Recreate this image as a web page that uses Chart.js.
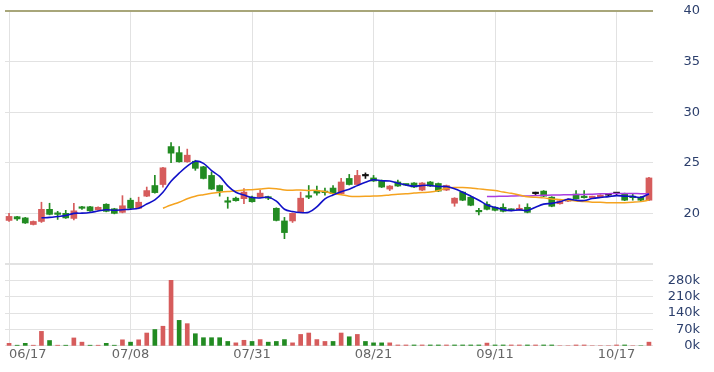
<!DOCTYPE html>
<html><head><meta charset="utf-8">
<script src="https://cdn.jsdelivr.net/npm/chart.js@4"></script>
<style>html,body{margin:0;padding:0;background:#fff}#wrap{width:714px;height:372px;position:relative}</style>
</head><body><div id="wrap"><canvas id="c" width="714" height="372"></canvas></div>
<script>
const dates = ['06/17','06/18','06/19','06/20','06/21','06/24','06/25','06/26','06/27','06/28',
 '07/01','07/02','07/03','07/04','07/05','07/08','07/09','07/10','07/11','07/12',
 '07/15','07/16','07/17','07/18','07/19','07/22','07/23','07/24','07/25','07/26',
 '07/31','08/01','08/02','08/05','08/06','08/07','08/08','08/09','08/12','08/13',
 '08/14','08/15','08/16','08/19','08/20','08/21','08/22','08/23','08/26','08/27',
 '08/28','08/29','08/30','09/02','09/03','09/04','09/05','09/06','09/09','09/10',
 '09/11','09/12','09/16','09/17','09/18','09/19','09/20','09/24','09/25','09/27',
 '09/30','10/08','10/11','10/15','10/16','10/17','10/18','10/21','10/22','10/23'];
const dateTickIndex = [0,15,30,45,60,75];

const open = [19.3,19.67,19.55,18.9,19.2,20.4,20.0,20.0,19.5,20.6,
 20.65,20.35,20.9,20.45,20.1,21.3,20.5,21.7,22.75,22.85,
 26.6,26.0,25.1,25.15,24.6,23.75,22.75,21.2,21.5,21.45,
 21.6,21.6,21.6,20.5,19.25,19.25,20.1,21.75,22.25,22.2,
 22.5,21.95,23.45,22.85,23.7,23.5,23.25,22.4,23.1,22.85,
 23.0,22.3,23.1,22.95,22.3,21.0,22.1,21.6,20.2,20.9,
 20.6,20.6,20.4,20.35,20.6,21.95,22.2,21.6,20.95,21.2,
 21.9,21.65,21.55,21.65,21.8,21.95,21.95,21.65,21.6,21.3];
const high = [20.0,19.7,19.6,19.25,21.1,21.0,20.2,20.3,21.0,20.7,
 20.7,20.65,20.95,20.5,21.75,21.5,21.6,22.6,23.75,24.55,
 27.0,26.6,26.35,25.25,24.65,24.1,22.8,21.6,21.6,22.45,
 21.7,22.3,21.7,20.55,19.6,20.05,22.1,22.75,22.7,22.5,
 22.75,23.45,23.85,24.25,24.0,23.75,23.3,22.75,23.3,22.9,
 23.05,23.05,23.15,23.0,22.8,21.55,22.15,21.65,20.5,21.15,
 20.65,20.95,20.45,20.85,20.95,22.1,22.25,21.65,21.3,21.45,
 22.25,22.25,21.7,21.85,21.9,22.05,22.0,21.95,21.65,23.55];
const low = [19.2,19.3,19.0,18.85,19.1,19.85,19.4,19.5,19.35,20.4,
 20.2,20.3,20.15,19.95,20.05,20.45,20.45,21.65,22.0,22.6,
 25.0,25.05,25.05,24.25,23.4,22.35,21.7,20.5,21.2,20.95,
 21.1,21.55,21.35,19.25,17.5,19.1,20.05,21.45,21.8,21.8,
 21.9,21.9,22.8,22.8,23.45,23.15,22.55,22.25,22.65,22.75,
 22.55,22.25,22.65,22.15,22.25,20.7,21.25,20.75,19.85,20.35,
 20.25,20.15,20.25,20.3,20.05,21.85,21.65,20.65,20.9,21.15,
 21.4,21.5,21.5,21.6,21.7,21.85,21.25,21.3,21.25,21.25];
const close = [19.7,19.45,19.05,19.2,20.4,19.9,19.9,19.55,20.25,20.5,
 20.25,20.6,20.2,20.0,20.75,20.5,21.1,22.25,22.05,24.5,
 25.95,25.1,25.75,24.45,23.45,22.4,22.2,21.1,21.25,22.1,
 21.15,22.0,21.5,19.3,18.1,20.0,21.5,21.6,22.0,22.05,
 21.95,23.1,22.85,23.75,23.7,23.2,22.6,22.7,22.7,22.8,
 22.6,23.0,22.7,22.2,22.75,21.5,21.3,20.8,20.15,20.4,
 20.3,20.2,20.3,20.5,20.1,21.95,21.7,20.7,21.25,21.4,
 21.45,21.55,21.65,21.8,21.8,21.95,21.3,21.55,21.3,23.5];
const volume = [11000,3000,11000,3000,62000,23000,3000,3000,34000,16000,
 3000,3000,11000,3000,26000,16000,26000,55000,70000,84000,
 280000,109000,95000,52000,35000,35000,35000,19000,13000,24000,
 19000,27000,16000,19000,27000,13000,49000,55000,27000,19000,
 19000,55000,39000,49000,19000,13000,13000,13000,4000,4000,
 4000,4000,4000,4000,4000,4000,4000,4000,4000,12000,
 4000,4000,4000,4000,4000,4000,4000,4000,0,0,
 4000,4000,0,0,0,4000,4000,0,0,16000];
const ma5 = [null,null,null,null,19.56,19.60,19.69,19.79,20.00,20.02,
 20.09,20.23,20.36,20.31,20.36,20.41,20.51,20.92,21.33,22.08,
 23.17,23.97,24.67,25.15,24.94,24.23,23.65,22.72,22.08,21.81,
 21.56,21.52,21.60,21.21,20.41,20.18,20.08,20.10,20.64,21.43,
 21.82,22.14,22.39,22.74,23.07,23.32,23.22,23.19,22.98,22.80,
 22.68,22.76,22.76,22.66,22.65,22.43,22.09,21.71,21.30,20.83,
 20.59,20.37,20.27,20.34,20.28,20.61,20.91,20.99,21.14,21.40,
 21.30,21.27,21.46,21.57,21.65,21.75,21.70,21.68,21.58,21.92];
const ma20 = [null,null,null,null,null,null,null,null,null,null,
 null,null,null,null,null,null,null,null,null,20.51,
 20.82,21.10,21.44,21.70,21.85,21.98,22.09,22.17,22.22,22.30,
 22.34,22.41,22.48,22.44,22.31,22.29,22.31,22.27,22.27,22.15,
 21.95,21.85,21.70,21.67,21.68,21.72,21.74,21.82,21.89,21.93,
 22.00,22.05,22.11,22.26,22.49,22.56,22.55,22.51,22.42,22.34,
 22.26,22.11,21.98,21.82,21.64,21.58,21.53,21.43,21.36,21.29,
 21.23,21.16,21.11,21.09,21.04,21.06,21.06,21.10,21.16,21.31];
const ma60 = [null,null,null,null,null,null,null,null,null,null,
 null,null,null,null,null,null,null,null,null,null,
 null,null,null,null,null,null,null,null,null,null,
 null,null,null,null,null,null,null,null,null,null,
 null,null,null,null,null,null,null,null,null,null,
 null,null,null,null,null,null,null,null,null,21.66,
 21.67,21.69,21.71,21.73,21.72,21.76,21.79,21.81,21.82,21.84,
 21.86,21.87,21.90,21.93,21.95,21.97,21.97,21.96,21.95,21.93];
const priceTicks = [15,20,25,30,35,40];
const volumeTicks = [0,70000,140000,210000,280000,350000];

const UP = '#d65c5c', DOWN = '#228b22', FLAT = '#111111';
function candleColor(i){ return close[i] > open[i] ? UP : (close[i] < open[i] ? DOWN : FLAT); }
function volColor(i){ const ref = i > 0 ? close[i-1] : open[i]; return close[i] >= ref ? UP : DOWN; }

const FONT = {family: 'DejaVu Sans', size: 13};
function noPad(ax){ ax.paddingLeft = 0; ax.paddingRight = 0; ax.paddingTop = 0; ax.paddingBottom = 0; }

new Chart(document.getElementById('c'), {
  data: {
    labels: dates,
    datasets: [
      {type:'line', data: ma5, borderColor:'#1010c8', borderWidth:1.6, pointRadius:0, tension:0.35, yAxisID:'y'},
      {type:'line', data: ma20, borderColor:'#f5a31f', borderWidth:1.5, pointRadius:0, tension:0.35, yAxisID:'y'},
      {type:'line', data: ma60, borderColor:'#a93ce0', borderWidth:1.5, pointRadius:0, tension:0.35, yAxisID:'y'},
      {type:'bar', data: open.map((o,i)=>[o, close[i]]), backgroundColor: c=>candleColor(c.dataIndex), barThickness:6, minBarLength:1.5, grouped:false, yAxisID:'y', borderWidth:0},
      {type:'bar', data: low.map((l,i)=>[l, high[i]]), backgroundColor: c=>candleColor(c.dataIndex), barThickness:1, grouped:false, yAxisID:'y', borderWidth:0},
      {type:'bar', data: volume, backgroundColor: c=>volColor(c.dataIndex), barThickness:4, grouped:false, yAxisID:'yv', borderWidth:0}
    ]
  },
  options: {
    responsive:false, animation:false, devicePixelRatio:1,
    layout:{padding:{left:5, right:14, top:11, bottom:8.5}},
    plugins:{legend:{display:false}, tooltip:{enabled:false}},
    scales:{
      x:{type:'category', offset:true,
        grid:{offset:false, color:'#e2e2e2', lineWidth:1, drawTicks:false},
        border:{display:false},
        ticks:{autoSkip:false, maxRotation:0, align:'inner', padding:1, color:'#666666', font:FONT,
          callback:(v)=> (dates[v] !== undefined ? dates[v] : '')},
        afterBuildTicks: ax => { ax.ticks = dateTickIndex.map(v=>({value:v})).concat([{value:999}]); },
        afterFit: noPad
      },
      y:{type:'linear', position:'right', stack:'s', stackWeight:250, min:15, max:40,
        afterBuildTicks: ax => { ax.ticks = priceTicks.map(v=>({value:v})); },
        ticks:{autoSkip:false, color:'#2c3f6c', font:FONT, padding:30, crossAlign:'far', callback:v=> v===15 ? '' : String(v)},
        grid:{drawTicks:false, color:c=> (c.tick && c.tick.value===40) ? '#a8a67a' : '#e2e2e2', lineWidth:c=> (c.tick && (c.tick.value===40 || c.tick.value===15)) ? 2 : 1},
        border:{display:false},
        afterFit: ax => { noPad(ax); ax.width = 47; }
      },
      yv:{type:'linear', position:'right', stack:'s', stackWeight:81, min:0, max:350000,
        afterBuildTicks: ax => { ax.ticks = volumeTicks.map(v=>({value:v})); },
        ticks:{autoSkip:false, color:'#2c3f6c', font:FONT, padding:14, crossAlign:'far', callback:v=> v===350000 ? '' : (v/1000)+'k'},
        grid:{drawTicks:false, color:'#e2e2e2', lineWidth:c=> (c.tick && c.tick.value===350000) ? 2 : 1},
        border:{display:false},
        afterFit: ax => { noPad(ax); ax.width = 47; }
      }
    }
  }
});
</script></body></html>
